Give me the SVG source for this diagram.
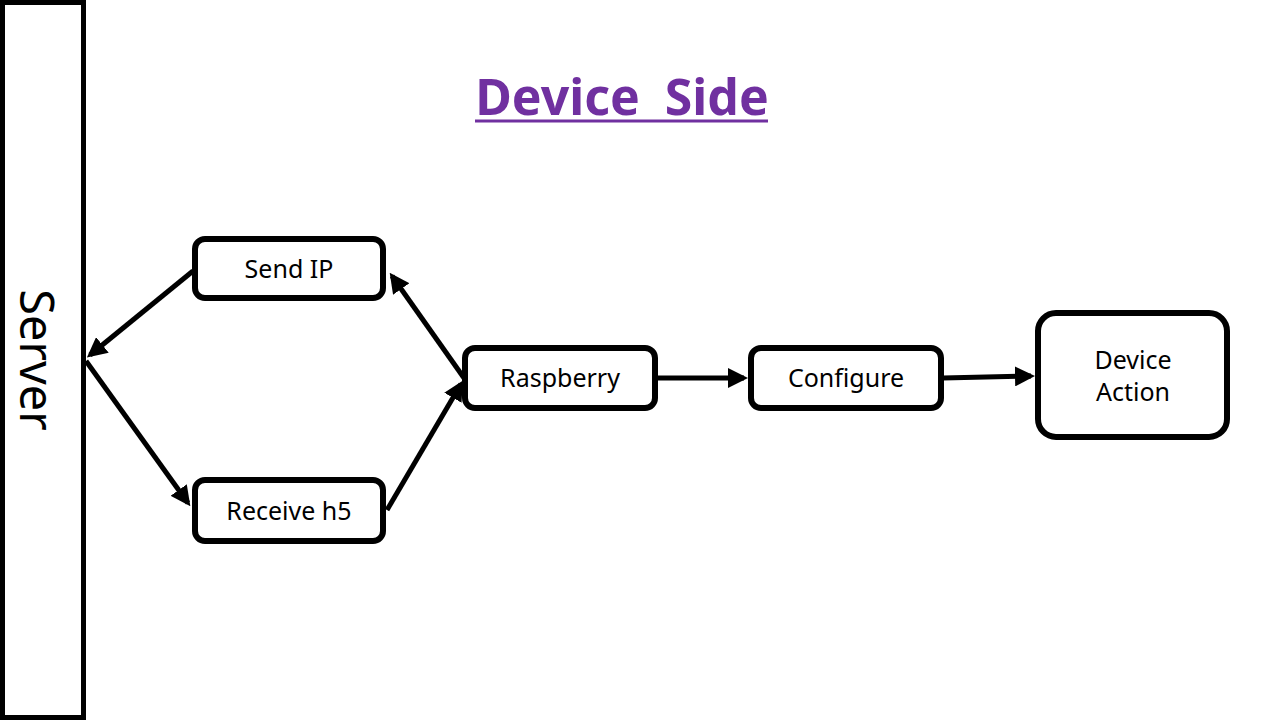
<svg xmlns="http://www.w3.org/2000/svg" width="1280" height="720" viewBox="0 0 1280 720">
<defs>
<style>
.box{fill:#fff;stroke:#000;stroke-width:6}
.lbl{font-family:"Noto Sans","Open Sans",sans-serif;font-size:25px;fill:#000;text-anchor:middle}
.con{stroke:#000;stroke-width:5;fill:none;marker-end:url(#ah)}
</style>
<marker id="ah" viewBox="0 0 10 10" refX="8" refY="5" markerWidth="4" markerHeight="4" markerUnits="strokeWidth" orient="auto">
<path d="M0,0 L10,5 L0,10 z" fill="#000"/>
</marker>
</defs>
<rect width="1280" height="720" fill="#fff"/>
<g id="title">
<text x="622" y="115" font-family="Noto Sans,Open Sans,sans-serif" font-size="50" font-weight="bold" fill="#7030A0" text-anchor="middle" word-spacing="12">Device Side</text>
<line x1="475" y1="121" x2="768" y2="121" stroke="#7030A0" stroke-width="3"/>
</g>
<g id="server">
<rect x="2.5" y="2.5" width="81" height="715" fill="#fff" stroke="#000" stroke-width="5"/>
<text transform="translate(20,360) rotate(90)" font-family="Noto Sans,Open Sans,sans-serif" font-size="47" text-anchor="middle" fill="#000">Server</text>
</g>
<g id="sendip">
<rect class="box" x="195" y="239" width="188" height="59" rx="10"/>
<text class="lbl" x="289" y="278">Send IP</text>
</g>
<g id="receive">
<rect class="box" x="195" y="480" width="188" height="61" rx="10"/>
<text class="lbl" x="289" y="520">Receive h5</text>
</g>
<g id="raspberry">
<rect class="box" x="465" y="348" width="190" height="60" rx="10"/>
<text class="lbl" x="560" y="387">Raspberry</text>
</g>
<g id="configure">
<rect class="box" x="751" y="348" width="190" height="60" rx="10"/>
<text class="lbl" x="846" y="387">Configure</text>
</g>
<g id="action">
<rect class="box" x="1038" y="313" width="189" height="124" rx="18"/>
<text class="lbl" x="1133" y="369">Device</text>
<text class="lbl" x="1133" y="401">Action</text>
</g>
<g id="connectors">
<line class="con" x1="193" y1="271" x2="90" y2="355"/>
<line class="con" x1="86" y1="361" x2="188" y2="503"/>
<line class="con" x1="464" y1="378" x2="392" y2="276"/>
<line class="con" x1="387" y1="510" x2="461" y2="384"/>
<line class="con" x1="657" y1="378" x2="744" y2="378"/>
<line class="con" x1="943" y1="378" x2="1031" y2="376"/>
</g>
</svg>
